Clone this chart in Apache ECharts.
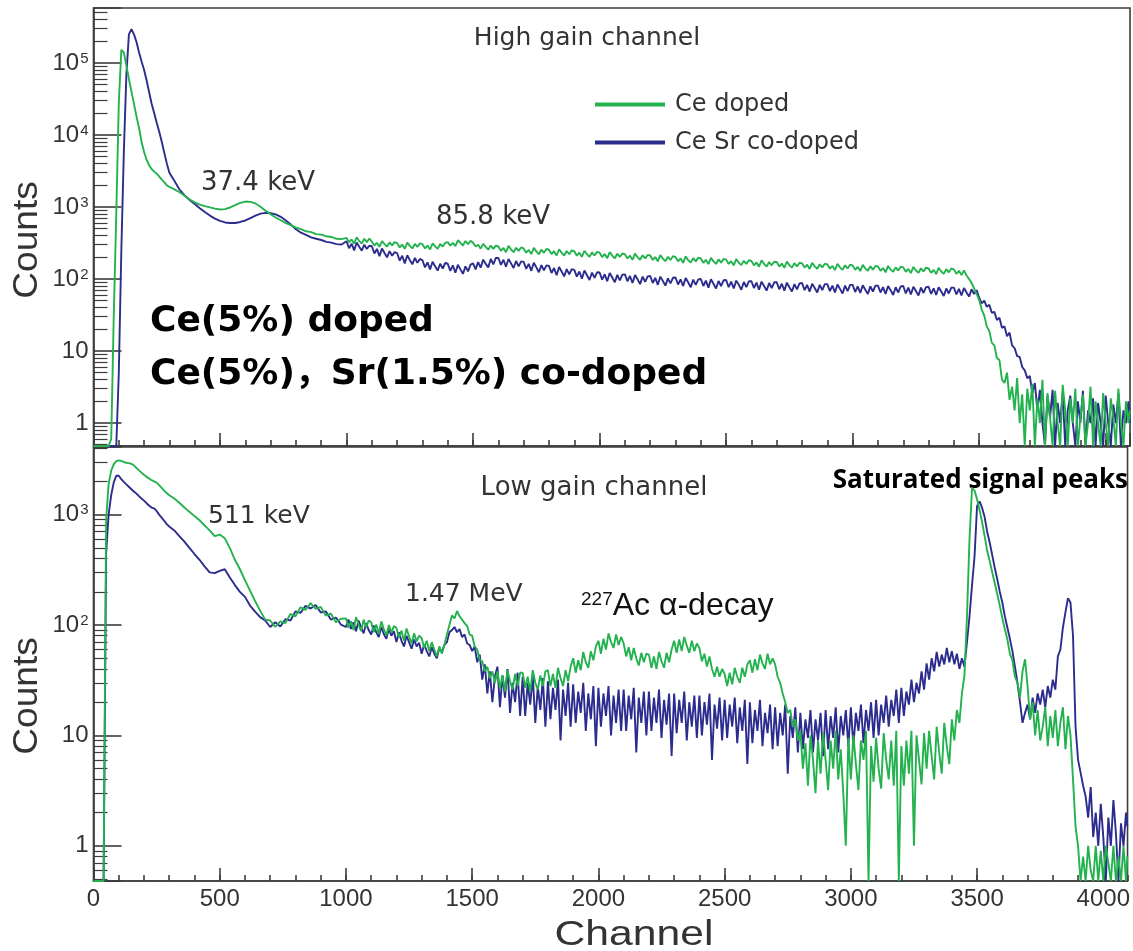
<!DOCTYPE html>
<html>
<head>
<meta charset="utf-8">
<script src="https://cdn.jsdelivr.net/npm/echarts@6.0.0/dist/echarts.min.js"></script>
<style>
  html, body { margin: 0; padding: 0; background: #ffffff; }
  #chart { width: 1133px; height: 951px; }
</style>
</head>
<body>
<div id="chart"></div>
<script>
// ---------------- DATA ----------------
// Channel grid of the readings: every 10 ch for 0-290, every 20 ch for 300-980,
// every 10 ch for 1000-4090, then the last channel 4095.
const channels = [];
for (let c = 0; c < 300; c += 10) channels.push(c);
for (let c = 300; c < 1000; c += 20) channels.push(c);
for (let c = 1000; c <= 4090; c += 10) channels.push(c);
channels.push(4095);

const xTickLabels = ['0', '500', '1000', '1500', '2000', '2500', '3000', '3500', '4000'];
const seriesNames = ['Ce doped', 'Ce Sr co-doped'];

// High gain channel, Ce doped (green). 0 = no counts (drawn on the axis floor)
const highGainCeDoped = [
  // 0-290 (step 10)
  0, 0, 0, 0, 0, 0, 0, 0.6, 30, 800,
  28000, 152000, 140000, 92000, 60000, 40000, 27000, 18000, 12500, 8000,
  5800, 4500, 3800, 3350, 3100, 2900, 2650, 2400, 2200, 2000,
  // 300-980 (step 20)
  1900, 1760, 1600, 1430, 1270, 1160, 1080, 1030, 990, 950,
  925, 935, 985, 1060, 1140, 1190, 1180, 1120, 1010, 890,
  795, 715, 655, 598, 562, 518, 492, 460, 448, 420,
  413, 392, 384, 362, 358,
  // 1000-4090 (step 10)
  372, 324, 355, 311, 379, 338, 310, 362, 325, 365,
  330, 292, 318, 280, 335, 305, 282, 322, 294, 326,
  315, 274, 301, 263, 320, 288, 266, 308, 280, 312,
  305, 266, 292, 257, 312, 284, 262, 306, 283, 318,
  325, 290, 318, 286, 345, 318, 292, 337, 305, 340,
  318, 283, 300, 264, 308, 280, 255, 292, 262, 291,
  283, 246, 270, 236, 289, 257, 236, 271, 246, 274,
  266, 232, 254, 222, 271, 242, 221, 256, 231, 262,
  255, 222, 243, 212, 259, 231, 212, 245, 221, 250,
  243, 211, 232, 203, 247, 221, 203, 234, 212, 238,
  232, 202, 222, 194, 236, 211, 194, 224, 203, 226,
  221, 193, 211, 185, 225, 201, 185, 214, 193, 216,
  212, 184, 202, 176, 215, 192, 177, 204, 184, 207,
  202, 176, 193, 168, 206, 183, 169, 195, 176, 198,
  193, 168, 185, 161, 197, 176, 162, 187, 169, 190,
  186, 162, 177, 155, 189, 168, 156, 179, 162, 182,
  178, 155, 170, 148, 182, 162, 149, 172, 155, 174,
  172, 149, 164, 143, 175, 156, 144, 166, 150, 168,
  165, 144, 158, 138, 168, 150, 139, 160, 145, 163,
  160, 139, 152, 133, 163, 145, 134, 155, 140, 158,
  154, 134, 147, 129, 157, 140, 130, 150, 135, 152,
  149, 130, 142, 124, 152, 135, 126, 145, 131, 148,
  145, 126, 138, 121, 147, 131, 122, 141, 127, 144,
  140, 122, 134, 117, 143, 127, 118, 137, 124, 140,
  136, 118, 130, 114, 132, 112, 100, 88, 74, 62,
  51, 38, 31, 22, 19, 13, 12, 8, 7.5, 4,
  3.6, 5, 2.1, 3.2, 1.5, 4.2, 1, 2.5, 0, 3,
  1.5, 3.5, 0, 2.2, 1, 4, 0, 2.6, 1.2, 0,
  2.8, 1, 0, 3.4, 1.5, 0, 2.2, 1, 3, 0,
  1.2, 2.5, 0, 1, 3.2, 0, 2, 1, 0, 2.6,
  1, 0, 2.2, 1.2, 0, 3, 1, 0, 2, 1,
  // 4095
  1.5
];

// High gain channel, Ce Sr co-doped (blue)
const highGainCeSrCoDoped = [
  0, 0, 0, 0, 0, 0, 0, 0, 0, 0,
  5, 250, 6000, 70000, 250000, 295000, 250000, 195000, 140000, 105000,
  80000, 57000, 39000, 27000, 20000, 14700, 11000, 8000, 5600, 4000,
  3000, 2300, 1750, 1450, 1250, 1100, 960, 850, 760, 690,
  640, 610, 600, 600, 620, 650, 700, 760, 810, 830,
  820, 790, 730, 650, 570, 490, 440, 410, 378, 362,
  348, 328, 320, 305, 302,
  335, 268, 310, 250, 322, 280, 248, 300, 262, 290,
  285, 226, 262, 208, 265, 230, 200, 244, 210, 236,
  228, 180, 210, 165, 214, 184, 160, 196, 168, 190,
  182, 145, 170, 136, 174, 150, 131, 163, 140, 167,
  163, 130, 155, 122, 158, 136, 118, 150, 128, 158,
  165, 136, 172, 144, 186, 162, 145, 190, 160, 196,
  196, 157, 185, 148, 190, 165, 142, 178, 150, 176,
  173, 138, 162, 130, 168, 145, 124, 156, 132, 155,
  152, 121, 142, 113, 147, 127, 109, 137, 116, 137,
  134, 108, 127, 101, 131, 113, 97, 123, 104, 124,
  123, 98, 116, 93, 121, 105, 90, 114, 96, 115,
  116, 93, 110, 88, 114, 99, 85, 108, 91, 109,
  110, 88, 104, 83, 108, 94, 81, 102, 87, 104,
  105, 84, 99, 80, 103, 90, 77, 98, 83, 99,
  100, 80, 95, 76, 99, 86, 74, 94, 80, 96,
  97, 77, 92, 74, 95, 83, 71, 91, 77, 93,
  93, 75, 89, 71, 92, 80, 69, 88, 75, 90,
  90, 72, 86, 69, 89, 77, 67, 85, 72, 87,
  88, 70, 83, 67, 86, 75, 65, 83, 70, 85,
  85, 68, 81, 65, 84, 73, 63, 81, 68, 83,
  83, 66, 79, 64, 82, 71, 62, 79, 67, 81,
  81, 65, 77, 62, 80, 70, 60, 77, 65, 79,
  80, 63, 76, 61, 78, 68, 59, 76, 64, 77,
  78, 62, 74, 60, 77, 67, 58, 74, 63, 76,
  76, 61, 73, 59, 75, 65, 57, 72, 62, 70,
  55, 46, 50, 41, 44, 34, 35, 27, 29, 21,
  22, 16, 18, 12, 11, 8.5, 8.3, 6, 5.4, 4.2,
  4.5, 2.6, 3.6, 1.5, 2.9, 1, 0, 2.4, 1.2, 2.9,
  0, 1.9, 1, 2.6, 0, 1.5, 2.4, 1, 0, 2,
  1, 2.8, 0, 1.5, 1, 2.2, 0, 1.9, 1, 0,
  2.4, 1, 0, 1.8, 1, 2.6, 0, 1.5, 1, 2,
  1
];

// Low gain channel, Ce doped (green)
const lowGainCeDoped = [
  0, 0, 0, 0, 0, 900, 1900, 2500, 2850, 3050,
  3100, 3070, 3000, 2950, 2930, 2880, 2800, 2650, 2520, 2400,
  2300, 2200, 2130, 2050, 2000, 1950, 1850, 1750, 1650, 1570,
  1500, 1400, 1280, 1160, 1060, 970, 890, 800, 720, 640,
  660, 610, 500, 390, 320, 255, 205, 165, 135, 112,
  110, 96, 108, 104, 126, 120, 145, 137, 158, 140,
  146, 122, 127, 106, 114,
  115, 94, 108, 90, 118, 101, 88, 112, 95, 110,
  106, 86, 101, 83, 108, 92, 80, 100, 85, 98,
  94, 77, 89, 72, 93, 79, 68, 84, 71, 80,
  76, 62, 72, 58, 70, 60, 52, 64, 55, 66,
  82, 100, 122, 115, 134, 120, 112, 104, 98, 82,
  80, 64, 60, 48, 47, 38, 42, 33, 38, 30,
  38, 27, 35, 25, 39, 31, 26, 36, 28, 37,
  37, 27, 34, 25, 39, 30, 26, 35, 28, 38,
  39, 28, 36, 27, 41, 33, 28, 39, 31, 42,
  50, 37, 48, 39, 57, 46, 41, 58, 48, 64,
  72, 55, 75, 60, 84, 70, 62, 82, 66, 78,
  68, 52, 63, 48, 62, 50, 43, 56, 46, 55,
  54, 41, 52, 40, 57, 47, 41, 56, 46, 60,
  72, 56, 74, 58, 78, 65, 56, 72, 58, 68,
  62, 47, 55, 42, 52, 40, 34, 42, 34, 40,
  36, 28, 37, 29, 41, 34, 30, 41, 34, 44,
  48, 37, 49, 39, 54, 45, 40, 55, 44, 50,
  44, 34, 30, 24, 20, 16, 17, 12, 14, 9,
  11, 5, 8.5, 3.5, 10, 6, 3, 9, 4.5, 10.5,
  6, 3.2, 9, 5, 11, 4, 7.5, 3, 1.0, 9.5,
  4, 10, 5.5, 3.2, 9, 6, 11, 0, 8, 3.8,
  9.5, 5, 3.3, 10.5, 6, 4, 9, 3.5, 11, 0,
  8, 3.5, 9, 4.5, 11, 1.0, 10, 6, 3.6, 10.5,
  5, 11, 6.5, 4, 12, 7, 4.5, 13, 8, 5.5,
  14, 9, 17, 13, 24, 35, 120, 600, 1750, 1650,
  1380, 1100, 850, 640, 470, 380, 300, 240, 190, 150,
  115, 92, 74, 55, 48, 34, 30, 22, 38, 49,
  28, 14, 20, 10, 17, 9, 12, 18, 8, 15,
  9.5, 17, 8, 13, 18, 7.5, 15, 10, 4, 1.5,
  1, 0, 0.8, 0, 1, 0.6, 0, 1, 0, 0.9,
  0, 1, 0.7, 0, 1, 0, 0.8, 0, 1, 0,
  0.8
];

// Low gain channel, Ce Sr co-doped (blue)
const lowGainCeSrCoDoped = [
  0, 0, 0, 0, 0, 450, 1000, 1500, 1950, 2250,
  2250, 2100, 1980, 1880, 1790, 1700, 1620, 1550, 1470, 1400,
  1340, 1270, 1210, 1160, 1140, 1080, 1000, 940, 880, 820,
  780, 720, 640, 570, 500, 440, 390, 340, 300, 295,
  310, 320, 270, 230, 200, 180, 150, 132, 118, 110,
  96, 106, 97, 113, 110, 133, 129, 149, 141, 152,
  130, 133, 112, 117, 101,
  96, 112, 92, 106, 88, 110, 95, 84, 104, 90,
  82, 99, 86, 78, 96, 83, 75, 92, 80, 88,
  70, 86, 72, 64, 80, 70, 61, 74, 64, 69,
  55, 67, 58, 52, 63, 55, 50, 62, 57, 66,
  70, 86, 90, 96, 86, 92, 78, 82, 68, 66,
  58, 64, 46, 54, 32, 44, 24, 38, 20, 34,
  42, 18, 35, 22, 40, 16, 30, 20, 37, 15,
  34, 15, 30, 19, 35, 13, 28, 17, 33, 12,
  31, 14, 27, 17, 32, 9, 26, 15, 30, 12,
  29, 13, 25, 16, 30, 11, 24, 14, 28, 8,
  27, 12, 24, 15, 28, 10, 23, 13, 26, 11,
  26, 11, 23, 14, 27, 7, 22, 13, 25, 10,
  25, 11, 22, 13, 26, 9.5, 21, 12.5, 24, 6.5,
  24, 10.5, 21, 13, 25, 9, 20, 12, 23, 9.5,
  23, 10, 20, 12.5, 24, 6, 19, 11.5, 22, 9,
  21, 9.5, 19, 12, 22, 8.5, 18, 11, 21, 5.5,
  20, 8.5, 17, 11, 21, 8, 16, 10.5, 19, 7.5,
  18, 8, 16, 10, 19, 4.5, 15, 9.5, 18, 7,
  16, 7.5, 14, 9.5, 17, 7, 14, 9, 16, 6.5,
  17, 7.5, 15, 9.5, 18, 7, 15, 10, 17, 8,
  18, 8, 16, 11, 19, 8.5, 17, 11, 20, 9.5,
  21, 10, 19, 13, 23, 12, 21, 15, 26, 13,
  27, 15, 25, 19, 32, 20, 30, 24, 38, 26,
  45, 32, 50, 38, 57, 42, 54, 44, 62, 46,
  58, 44, 55, 40, 50, 42, 70, 120, 230, 420,
  1200, 1320, 1150, 950, 700, 560, 430, 330, 260, 200,
  160, 120, 95, 75, 58, 42, 30, 20, 13, 16,
  19, 14, 22, 16, 24, 19, 26, 18, 28, 22,
  32, 26, 52, 60, 95, 130, 175, 160, 80, 12,
  6, 4.6, 3.5, 2.8, 1.8, 3.4, 1.2, 2, 1, 2.4,
  1.2, 0, 1.8, 1, 2.6, 1.3, 0, 1.6, 1, 2,
  1.5
];

// ---------------- CHART ----------------
const Y_MIN = 0.48;          // bottom of both log axes; zero counts sit on it
const TOP_MAX = 5.8e5;
const BOTTOM_MAX = 4100;
const X_MAX = 4096;

const GREEN = '#24b24e';
const BLUE = '#2c2c8e';
const AXIS = '#3c3c3c';
const FONT_TICK = '"Liberation Sans", Arial, sans-serif';
const FONT_NOTE = '"DejaVu Sans", "Noto Sans CJK SC", sans-serif';

function toPairs(values) {
  return channels.map((c, i) => [c, values[i] > 0 ? values[i] : Y_MIN]);
}

function logLabel(v) {
  const e = Math.round(Math.log10(v));
  if (e <= 0) return '1';
  if (e === 1) return '10';
  return '10{s|' + e + '}';
}

const axisLineStyle = { color: AXIS, width: 1.6 };

function majorX(grid, showLabels) {
  return {
    type: 'value', gridIndex: grid, position: 'bottom', min: 0, max: X_MAX, interval: 500,
    axisLine: { show: true, onZero: false, lineStyle: axisLineStyle },
    axisTick: { show: true, inside: true, length: 13, lineStyle: axisLineStyle },
    axisLabel: {
      show: showLabels, fontSize: 24, fontFamily: FONT_TICK, color: '#333', margin: 6,
      showMaxLabel: false,
      formatter: v => (v % 500 === 0 && xTickLabels[v / 500] !== undefined) ? xTickLabels[v / 500] : ''
    },
    splitLine: { show: false }
  };
}
function minorX(grid) {
  return {
    type: 'value', gridIndex: grid, position: 'bottom', offset: 0, min: 0, max: X_MAX, interval: 100,
    axisLine: { show: false, onZero: false },
    axisTick: { show: true, inside: true, length: 6, lineStyle: axisLineStyle },
    axisLabel: { show: false },
    splitLine: { show: false }
  };
}
function logY(grid, max, split) {
  return {
    type: 'log', logBase: 10, gridIndex: grid, min: Y_MIN, max: max, splitNumber: split,
    axisLine: { show: true, onZero: false, lineStyle: axisLineStyle },
    axisTick: { show: true, inside: true, length: 28, lineStyle: axisLineStyle },
    minorTick: { show: true, splitNumber: 9, length: 14, lineStyle: { color: AXIS, width: 1.2 } },
    axisLabel: {
      fontSize: 24, fontFamily: FONT_TICK, color: '#333', margin: 5,
      showMinLabel: false, showMaxLabel: false,
      formatter: logLabel,
      rich: { s: { fontSize: 15, fontFamily: FONT_TICK, color: '#333', verticalAlign: 'top', padding: [0, 0, 6, 1] } }
    },
    splitLine: { show: false }, minorSplitLine: { show: false }
  };
}

function lineSeries(name, color, xi, yi, values) {
  return {
    name: name, type: 'line', xAxisIndex: xi, yAxisIndex: yi,
    data: toPairs(values), showSymbol: false, symbol: 'none',
    lineStyle: { color: color, width: 1.9 }, itemStyle: { color: color },
    clip: true, animation: false
  };
}

function note(text, x, y, font, fill, align, extra) {
  return Object.assign({
    type: 'text', x: x, y: y, silent: true,
    style: { text: text, font: font, fill: fill || '#333', textAlign: align || 'left', textVerticalAlign: 'middle',
             align: align || 'left', verticalAlign: 'middle' }
  }, extra || {});
}

const option = {
  backgroundColor: '#ffffff',
  animation: false,
  grid: [
    { left: 93.5, top: 8, width: 1036.5, height: 438, show: true, borderColor: AXIS, borderWidth: 1.6 },
    { left: 93.5, top: 447, width: 1036.5, height: 434, show: true, borderColor: AXIS, borderWidth: 1.6 }
  ],
  xAxis: [majorX(0, false), minorX(0), majorX(1, true), minorX(1)],
  yAxis: [logY(0, TOP_MAX, 6), logY(1, BOTTOM_MAX, 4)],
  legend: {
    data: seriesNames, orient: 'vertical', left: 590, top: 86,
    icon: 'rect', itemWidth: 70, itemHeight: 4, itemGap: 11,
    textStyle: { fontSize: 24, fontFamily: FONT_NOTE, color: '#333', lineHeight: 27, padding: [0, 0, 0, 5] },
    selectedMode: false
  },
  series: [
    lineSeries(seriesNames[1], BLUE, 0, 0, highGainCeSrCoDoped),
    lineSeries(seriesNames[0], GREEN, 0, 0, highGainCeDoped),
    lineSeries(seriesNames[1], BLUE, 2, 1, lowGainCeSrCoDoped),
    lineSeries(seriesNames[0], GREEN, 2, 1, lowGainCeDoped)
  ],
  graphic: [
    note('High gain channel', 587, 38, '25px ' + FONT_NOTE, '#333', 'center'),
    note('37.4 keV', 201, 183, '26px ' + FONT_NOTE),
    note('85.8 keV', 436, 217, '26px ' + FONT_NOTE),
    note('Ce(5%) doped', 150, 322, 'bold 36px ' + FONT_NOTE, '#000'),
    note('Ce(5%)，Sr(1.5%) co-doped', 150, 375, 'bold 36px ' + FONT_NOTE, '#000'),
    note('Low gain channel', 594, 488, '26px ' + FONT_NOTE, '#333', 'center'),
    note('511 keV', 208, 516, '25px ' + FONT_NOTE),
    note('1.47 MeV', 405, 594, '25px ' + FONT_NOTE),
    {
      type: 'text', x: 581, y: 606, silent: true,
      style: {
        text: '{s|227}{m|Ac α-decay}', fill: '#111', textAlign: 'left', textVerticalAlign: 'middle',
        align: 'left', verticalAlign: 'middle',
        rich: {
          s: { font: '19px "Liberation Sans", Arial, sans-serif', fill: '#111', verticalAlign: 'top' },
          m: { font: '32px "Liberation Sans", Arial, sans-serif', fill: '#111' }
        }
      }
    },
    note('Saturated signal peaks', 1128, 481, 'bold 26px "Open Sans", sans-serif', '#000', 'right'),
    note('Counts', 27, 240, '35px ' + FONT_TICK, '#333', 'center', { rotation: Math.PI / 2, scaleX: 1.06 }),
    note('Counts', 27, 696, '35px ' + FONT_TICK, '#333', 'center', { rotation: Math.PI / 2, scaleX: 1.06 }),
    note('Channel', 634, 935, '35px ' + FONT_TICK, '#333', 'center', { scaleX: 1.22 })
  ]
};

const chart = echarts.init(document.getElementById('chart'), null, { renderer: 'canvas' });
chart.setOption(option);
</script>
</body>
</html>
